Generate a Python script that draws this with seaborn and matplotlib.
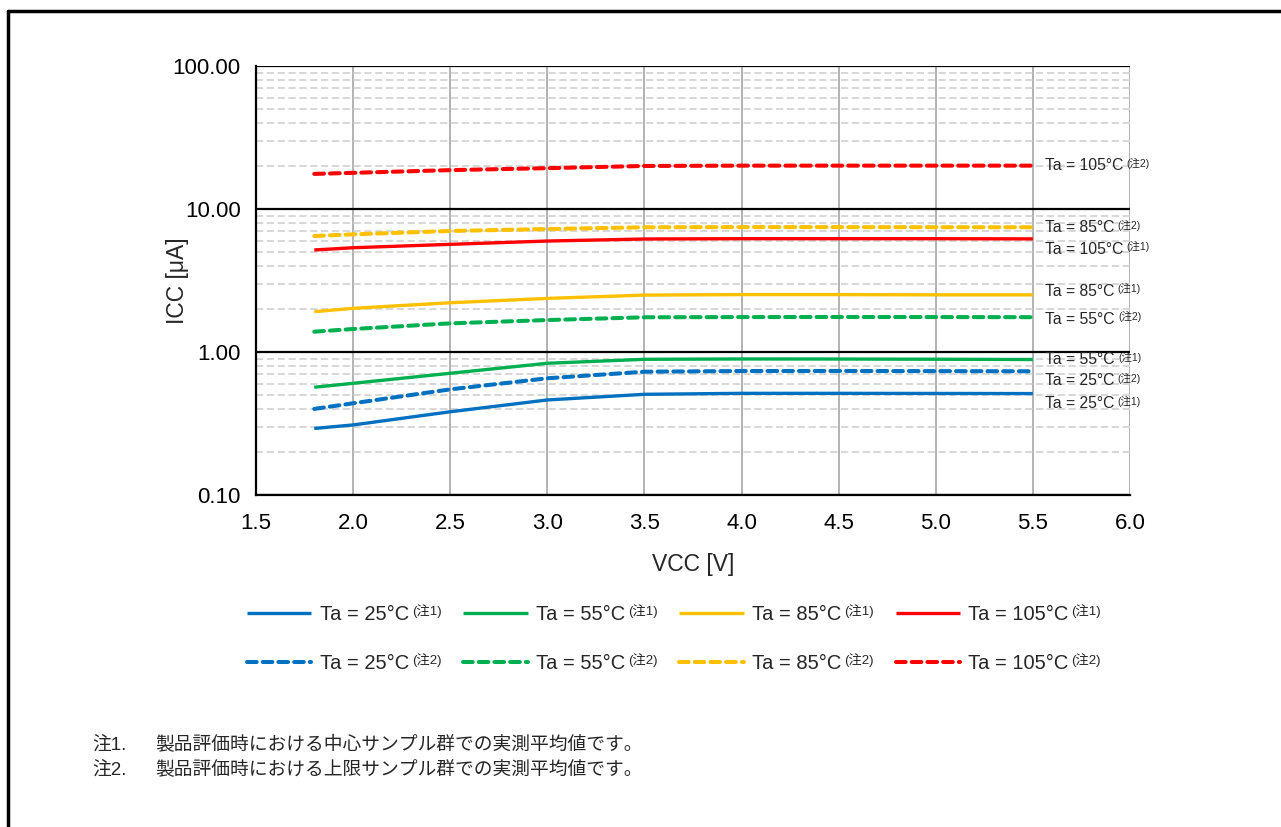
import matplotlib
matplotlib.use("Agg")
import numpy as np
import pandas as pd
import matplotlib.pyplot as plt
import seaborn as sns
from matplotlib.lines import Line2D
from matplotlib.ticker import LogLocator, FixedLocator, FormatStrFormatter, NullFormatter

# supply voltage points (V)
vcc = [1.8, 2.0, 2.5, 3.0, 3.5, 4.0, 4.5, 5.0, 5.5]

# ICC (uA), note 1 = typical sample, note 2 = upper sample
icc_25_n1 = [0.292, 0.309, 0.382, 0.462, 0.506, 0.514, 0.514, 0.513, 0.512]
icc_25_n2 = [0.400, 0.438, 0.548, 0.655, 0.728, 0.736, 0.737, 0.735, 0.733]
icc_55_n1 = [0.567, 0.604, 0.710, 0.834, 0.889, 0.894, 0.893, 0.890, 0.886]
icc_55_n2 = [1.387, 1.448, 1.586, 1.673, 1.749, 1.755, 1.757, 1.755, 1.752]
icc_85_n1 = [1.914, 2.020, 2.210, 2.370, 2.500, 2.520, 2.520, 2.510, 2.510]
icc_85_n2 = [6.47, 6.65, 7.02, 7.24, 7.45, 7.47, 7.47, 7.46, 7.45]
icc_105_n1 = [5.17, 5.36, 5.66, 5.97, 6.17, 6.20, 6.20, 6.20, 6.18]
icc_105_n2 = [17.6, 17.9, 18.7, 19.3, 20.0, 20.1, 20.1, 20.1, 20.1]

temps = ["25", "55", "85", "105"]
colors = {"25": "#0070C0", "55": "#00B050", "85": "#FFC000", "105": "#FF0000"}

x_ticks = [1.5, 2.0, 2.5, 3.0, 3.5, 4.0, 4.5, 5.0, 5.5, 6.0]
y_ticks = [0.1, 1, 10, 100]

# labels at the right end of the curves: (value position, temperature, note)
end_label_y = [20.0, 7.37, 5.25, 2.67, 1.70, 0.88, 0.627, 0.433]
end_label_t = ["105", "85", "105", "85", "55", "55", "25", "25"]
end_label_n = ["2", "2", "1", "1", "2", "1", "2", "1"]

notes = ["製品評価時における中心サンプル群での実測平均値です。",
         "製品評価時における上限サンプル群での実測平均値です。"]

series = [
    ("25", "1", icc_25_n1), ("25", "2", icc_25_n2),
    ("55", "1", icc_55_n1), ("55", "2", icc_55_n2),
    ("85", "1", icc_85_n1), ("85", "2", icc_85_n2),
    ("105", "1", icc_105_n1), ("105", "2", icc_105_n2),
]

sns.set_style("white")
plt.rcParams["font.family"] = ["Liberation Sans", "Noto Sans CJK JP"]

fig = plt.figure(figsize=(12.81, 8.27), dpi=100)
ax = fig.add_axes([256 / 1281, 1 - 495 / 827, 874 / 1281, 429 / 827])

dash = (0, (2.4, 1.5))
handles = []
for t, n, vals in series:
    if n == "1":
        sns.lineplot(x=vcc, y=vals, ax=ax, color=colors[t], linestyle="-", lw=2.4,
                     solid_capstyle="butt")
    else:
        sns.lineplot(x=vcc, y=vals, ax=ax, color=colors[t], linestyle=dash, lw=2.9,
                     dash_capstyle="round")
    handles.append(ax.lines[-1])
if ax.get_legend() is not None:
    ax.get_legend().remove()

ax.set_yscale("log")
ax.set_xlim(1.5, 6.0)
ax.set_ylim(0.1, 100)
ax.set_xticks(x_ticks)
ax.set_xticklabels([f"{v:.1f}" for v in x_ticks])
ax.yaxis.set_major_locator(FixedLocator(y_ticks))
ax.yaxis.set_major_formatter(FormatStrFormatter("%.2f"))
ax.yaxis.set_minor_locator(LogLocator(base=10, subs=np.arange(2, 10)))
ax.yaxis.set_minor_formatter(NullFormatter())

ax.set_axisbelow(True)
ax.grid(which="major", axis="x", color="#a6a6a6", lw=1.2)
ax.grid(which="major", axis="y", color="black", lw=1.6)
ax.grid(which="minor", axis="y", color="#d4d4d4", lw=1.3, linestyle=(0, (4, 2)))

for s in ["top", "right"]:
    ax.spines[s].set_visible(False)
for s in ["left", "bottom"]:
    ax.spines[s].set_color("black")
    ax.spines[s].set_linewidth(1.6)

ax.tick_params(axis="x", length=0, pad=13, labelsize=16, colors="black")
ax.tick_params(axis="y", which="major", direction="out", length=7, width=1.5,
               pad=4, labelsize=16, colors="black")
ax.tick_params(axis="y", which="minor", direction="inout", length=8, width=1.3,
               colors="black")

ax.set_xlabel("VCC [V]", fontsize=16.5)
ax.set_ylabel("ICC [μA]", fontsize=16.5)
ax.xaxis.set_label_coords(0.5, -0.135)
ax.yaxis.set_label_coords(-0.077, 0.5)

# labels at the end of the curves
end_texts = []
for y, t in zip(end_label_y, end_label_t):
    txt = ax.annotate(f"Ta = {t}°C", xy=(5.5, y), xytext=(9, 0),
                      textcoords="offset points", ha="left", va="center",
                      fontsize=11.3, annotation_clip=False)
    end_texts.append(txt)

# legend: solid row on top, dashed row below
leg_labels = [f"Ta = {t}°C" for t, n, v in series]
leg = fig.legend(handles, leg_labels, ncol=4, loc="upper left",
                 bbox_to_anchor=(247 / 1281, 1 - 605 / 827), frameon=False,
                 fontsize=14.5, handlelength=3.2, handletextpad=0.4,
                 columnspacing=2.7, labelspacing=1.5, borderpad=0,
                 borderaxespad=0)

# notes
fig.text(92 / 1281, 1 - 745 / 827, "注1.", fontsize=13.5, va="center")
fig.text(155 / 1281, 1 - 745 / 827, notes[0], fontsize=13.5, va="center")
fig.text(92 / 1281, 1 - 770 / 827, "注2.", fontsize=13.5, va="center")
fig.text(155 / 1281, 1 - 770 / 827, notes[1], fontsize=13.5, va="center")

# frame lines (top and left)
fig.add_artist(Line2D([8 / 1281, 1], [1 - 11 / 827] * 2, transform=fig.transFigure,
                      color="black", lw=2.5))
fig.add_artist(Line2D([8 / 1281] * 2, [0, 1 - 11 / 827], transform=fig.transFigure,
                      color="black", lw=2.5))

# superscript notes next to the texts
fig.canvas.draw()
renderer = fig.canvas.get_renderer()
inv = fig.transFigure.inverted()


def add_sup(txt, note, size):
    bb = txt.get_window_extent(renderer)
    x, y = inv.transform((bb.x1 + 3, bb.y1 + 1))
    fig.text(x, y, f"(注{note})", fontsize=size, ha="left", va="top")


for txt, n in zip(end_texts, end_label_n):
    add_sup(txt, n, 7.5)
for txt, (t, n, v) in zip(leg.get_texts(), series):
    add_sup(txt, n, 9.5)

fig.savefig("out.png", dpi=100)
